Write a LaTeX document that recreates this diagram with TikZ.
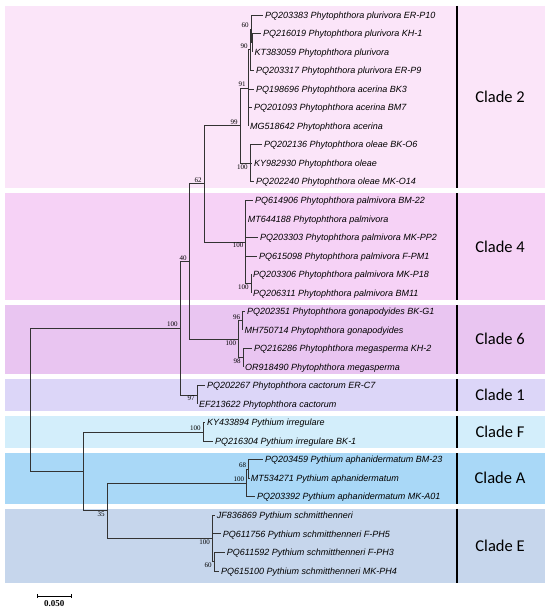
\documentclass[tikz,border=0pt]{standalone}
\usepackage{fontspec}
\setmainfont{Liberation Sans}
\newfontfamily\leaffont{Liberation Sans}
\newfontfamily\bootfont{Liberation Serif}
\newfontfamily\cladefont{Carlito}
\usetikzlibrary{positioning,arrows.meta,calc}
\definecolor{bandii}{HTML}{FBE5F9}
\definecolor{bandiv}{HTML}{F6D2F6}
\definecolor{bandvi}{HTML}{E9C5F1}
\definecolor{bandi}{HTML}{DCD6F8}
\definecolor{bandf}{HTML}{D3EEFB}
\definecolor{banda}{HTML}{A9D8F7}
\definecolor{bande}{HTML}{C6D6EC}
\tikzstyle{every node}=[inner sep=1pt]
\tikzstyle{branch} = [line width=0.7pt,draw=black!80]
\tikzstyle{leaf} = [anchor=west,inner sep=2pt,text height=6.4pt,text depth=0pt,font=\leaffont\itshape\fontsize{9}{10}\selectfont]
\tikzstyle{boot} = [inner sep=1pt,xshift=-1.2pt,font=\bootfont\fontsize{7}{8}\selectfont]
\tikzstyle{cladelbl} = [font=\cladefont\fontsize{16.5}{19}\selectfont]
\tikzstyle{cladebar} = [line width=1.3pt]
\tikzstyle{scalebar} = [line width=0.7pt,{Bar[width=4pt]}-{Bar[width=4pt]}]

\begin{document}
\begin{tikzpicture}[x=1pt,y=-1pt]
\fill[white] (0,0) rectangle (550,612);
\useasboundingbox (0,0) rectangle (550,612);

% clade bands
\fill[bandii] (5,6) rectangle (545,188.5);
\fill[bandiv] (5,193.5) rectangle (545,299.8);
\fill[bandvi] (5,304.8) rectangle (545,373.8);
\fill[bandi] (5,378.8) rectangle (545,410.9);
\fill[bandf] (5,415.9) rectangle (545,448);
\fill[banda] (5,453) rectangle (545,503.5);
\fill[bande] (5,508.5) rectangle (545,583);

\draw[cladebar] (457,6) -- (457,188.5);
\draw[cladebar] (457,193.5) -- (457,299.8);
\draw[cladebar] (457,304.8) -- (457,373.8);
\draw[cladebar] (457,378.8) -- (457,410.9);
\draw[cladebar] (457,415.9) -- (457,448);
\draw[cladebar] (457,453) -- (457,503.5);
\draw[cladebar] (457,508.5) -- (457,583);

\node (cladeii) [cladelbl] at (500,97.3) {Clade 2};
\node (cladeiv) [cladelbl] at (500,246.7) {Clade 4};
\node (cladevi) [cladelbl] at (500,339.3) {Clade 6};
\node (cladei) [cladelbl] at (500,394.9) {Clade 1};
\node (cladef) [cladelbl] at (500,432) {Clade F};
\node (cladea) [cladelbl] at (500,478.3) {Clade A};
\node (cladee) [cladelbl] at (500,545.8) {Clade E};

% internal nodes
\coordinate (pluriB) at (252.3,42.80);
\coordinate (pluriA) at (251,28.90);
\coordinate (pluri) at (250,49.75);
\coordinate (acer) at (248,87.96);
\coordinate (oleae) at (250,163.24);
\coordinate (twoall) at (240,125.60);
\coordinate (palmB) at (251,283.69);
\coordinate (palm) at (245.7,242.00);
\coordinate (upper) at (204,183.80);
\coordinate (gona) at (242.5,320.75);
\coordinate (mega) at (243,357.81);
\coordinate (sixall) at (238.5,339.28);
\coordinate (mid) at (189,261.54);
\coordinate (cact) at (197,394.87);
\coordinate (phyto) at (180,328.20);
\coordinate (irreg) at (203,431.93);
\coordinate (aphaB) at (248.5,468.99);
\coordinate (apha) at (246.5,482.88);
\coordinate (schmB) at (214,561.64);
\coordinate (schm) at (212.3,538.47);
\coordinate (aande) at (107,510.68);
\coordinate (pythium) at (83,471.30);
\coordinate (root) at (30,399.75);

% leaves
\node (pq203383) [leaf] at (263,15.00) {PQ203383 Phytophthora plurivora ER-P10};
\node (pq216019) [leaf] at (261,33.53) {PQ216019 Phytophthora plurivora KH-1};
\node (kt383059) [leaf] at (252.3,52.06) {KT383059 Phytophthora plurivora};
\node (pq203317) [leaf] at (254,70.59) {PQ203317 Phytophthora plurivora ER-P9};
\node (pq198696) [leaf] at (254,89.12) {PQ198696 Phytophthora acerina BK3};
\node (pq201093) [leaf] at (252,107.65) {PQ201093 Phytophthora acerina BM7};
\node (mg518642) [leaf] at (248,126.18) {MG518642 Phytophthora acerina};
\node (pq202136) [leaf] at (262,144.71) {PQ202136 Phytophthora oleae BK-O6};
\node (ky982930) [leaf] at (252,163.24) {KY982930 Phytophthora oleae};
\node (pq202240) [leaf] at (254,181.77) {PQ202240 Phytophthora oleae MK-O14};

\node (pq614906) [leaf] at (253,200.30) {PQ614906 Phytophthora palmivora BM-22};
\node (mt644188) [leaf] at (245.7,218.83) {MT644188 Phytophthora palmivora};
\node (pq203303) [leaf] at (258,237.36) {PQ203303 Phytophthora palmivora MK-PP2};
\node (pq615098) [leaf] at (257,255.89) {PQ615098 Phytophthora palmivora F-PM1};
\node (pq203306) [leaf] at (251,274.42) {PQ203306 Phytophthora palmivora MK-P18};
\node (pq206311) [leaf] at (251,292.95) {PQ206311 Phytophthora palmivora BM11};

\node (pq202351) [leaf] at (245,311.48) {PQ202351 Phytophthora gonapodyides BK-G1};
\node (mh750714) [leaf] at (242.5,330.01) {MH750714 Phytophthora gonapodyides};
\node (pq216286) [leaf] at (252,348.54) {PQ216286 Phytophthora megasperma KH-2};
\node (or918490) [leaf] at (243,367.07) {OR918490 Phytophthora megasperma};

\node (pq202267) [leaf] at (205,385.60) {PQ202267 Phytophthora cactorum ER-C7};
\node (ef213622) [leaf] at (197,404.13) {EF213622 Phytophthora cactorum};

\node (ky433894) [leaf] at (205,422.66) {KY433894 Pythium irregulare};
\node (pq216304) [leaf] at (213,441.19) {PQ216304 Pythium irregulare BK-1};

\node (pq203459) [leaf] at (263,459.72) {PQ203459 Pythium aphanidermatum BM-23};
\node (mt534271) [leaf] at (248.7,478.25) {MT534271 Pythium aphanidermatum};
\node (pq203392) [leaf] at (255,496.78) {PQ203392 Pythium aphanidermatum MK-A01};

\node (jf836869) [leaf] at (214.7,515.31) {JF836869 Pythium schmitthenneri};
\node (pq611756) [leaf] at (220.7,533.84) {PQ611756 Pythium schmitthenneri F-PH5};
\node (pq611592) [leaf] at (224.7,552.37) {PQ611592 Pythium schmitthenneri F-PH3};
\node (pq615100) [leaf] at (219,570.90) {PQ615100 Pythium schmitthenneri MK-PH4};

% branches
\draw[branch] (pluriB) |- (pq216019.west) (pluriB) |- (kt383059.west);
\draw[branch] (pluriA) |- (pq203383.west) (pluriA) |- (pluriB);
\draw[branch] (pluri) |- (pluriA) (pluri) |- (pq203317.west);
\draw[branch] (acer) |- (pluri) (acer) |- (pq198696.west) (acer) |- (pq201093.west) (acer) |- (mg518642.west);
\draw[branch] (oleae) |- (pq202136.west) (oleae) |- (ky982930.west) (oleae) |- (pq202240.west);
\draw[branch] (twoall) |- (acer) (twoall) |- (oleae);
\draw[branch] (palmB) |- (pq203306.west) (palmB) |- (pq206311.west);
\draw[branch] (palm) |- (pq614906.west) (palm) |- (mt644188.west) (palm) |- (pq203303.west) (palm) |- (pq615098.west) (palm) |- (palmB);
\draw[branch] (upper) |- (twoall) (upper) |- (palm);
\draw[branch] (gona) |- (pq202351.west) (gona) |- (mh750714.west);
\draw[branch] (mega) |- (pq216286.west) (mega) |- (or918490.west);
\draw[branch] (sixall) |- (gona) (sixall) |- (mega);
\draw[branch] (mid) |- (upper) (mid) |- (sixall);
\draw[branch] (cact) |- (pq202267.west) (cact) |- (ef213622.west);
\draw[branch] (phyto) |- (mid) (phyto) |- (cact);
\draw[branch] (irreg) |- (ky433894.west) (irreg) |- (pq216304.west);
\draw[branch] (aphaB) |- (pq203459.west) (aphaB) |- (mt534271.west);
\draw[branch] (apha) |- (aphaB) (apha) |- (pq203392.west);
\draw[branch] (schmB) |- (pq611592.west) (schmB) |- (pq615100.west);
\draw[branch] (schm) |- (jf836869.west) (schm) |- (pq611756.west) (schm) |- (schmB);
\draw[branch] (aande) |- (apha) (aande) |- (schm);
\draw[branch] (pythium) |- (irreg) (pythium) |- (aande);
\draw[branch] (root) |- (phyto) (root) |- (pythium);

% bootstrap values
\node (b60) [boot,anchor=south east] at (pluriA) {60};
\node (b90) [boot,anchor=south east] at (pluri) {90};
\node (b91) [boot,anchor=south east] at (acer) {91};
\node (b100o) [boot,anchor=north east] at (oleae) {100};
\node (b99) [boot,anchor=south east] at (twoall) {99};
\node (b62) [boot,anchor=south east] at (upper) {62};
\node (b100p) [boot,anchor=north east] at (palm) {100};
\node (b100pb) [boot,anchor=north east] at (palmB) {100};
\node (b96) [boot,anchor=south east] at (gona) {96};
\node (b98) [boot,anchor=north east] at (mega) {98};
\node (b100vi) [boot,anchor=north east] at (sixall) {100};
\node (b40) [boot,anchor=south east] at (mid) {40};
\node (b97) [boot,anchor=north east] at (cact) {97};
\node (b100ph) [boot,anchor=south east] at (phyto) {100};
\node (b100ir) [boot,anchor=south east] at (irreg) {100};
\node (b68) [boot,anchor=south east] at (aphaB) {68};
\node (b100ap) [boot,anchor=south east] at (apha) {100};
\node (b100sc) [boot,anchor=north east] at (schm) {100};
\node (b60sc) [boot,anchor=north east] at (schmB) {60};
\node (b35) [boot,anchor=north east] at (aande) {35};

% scale
\coordinate (sbleft) at (36.7,596);
\coordinate (sbright) at (71.7,596);
\draw[scalebar] (sbleft) -- (sbright);
\node (sblabel) [font=\bootfont\bfseries\fontsize{9}{10}\selectfont,below=3pt of $(sbleft)!0.5!(sbright)$] {0.050};
\end{tikzpicture}
\end{document}
